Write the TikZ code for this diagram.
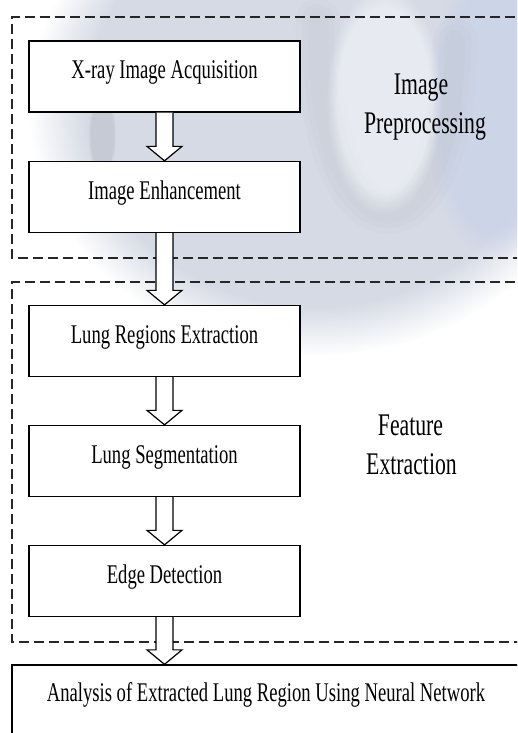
\documentclass[tikz,border=0pt]{standalone}
\usepackage{fontspec}
\setmainfont{Liberation Serif}[FakeStretch=0.69]
\usetikzlibrary{fadings,calc}

\definecolor{wmwash}{HTML}{D5DAE5}
\definecolor{wmblue}{HTML}{C9D2E8}
\definecolor{wmgrey}{HTML}{B4B8C2}
\definecolor{dashc}{HTML}{262626}

\tikzset{
  stagebox/.style={draw=black, line width=1.3pt, fill=white,
    minimum width=271pt, minimum height=71pt, inner sep=0pt},
  stagetext/.style={font=\fontsize{27}{32}\selectfont, inner sep=0pt},
  grouptext/.style={font=\fontsize{31.5}{38}\selectfont, anchor=base, inner sep=0pt},
  groupframe/.style={draw=dashc, line width=1.7pt, dash pattern=on 10pt off 5pt},
  blockarrow/.style={draw=black, line width=1.2pt, fill=white, line join=miter},
  softblob/.style={path fading=circle with fuzzy edge 20 percent},
}

% hollow block arrow from the bottom of one box to the top of the next
\newcommand\flowarrow[2]{%
  \path[blockarrow] let \p1=(#1.south), \p2=(#2.north) in
    (\x1-8.5pt,\y1) -- (\x1-8.5pt,\y2+14.5pt) -- (\x1-17.5pt,\y2+14.5pt)
    -- (\x1,\y2) -- (\x1+17.5pt,\y2+14.5pt) -- (\x1+8.5pt,\y2+14.5pt)
    -- (\x1+8.5pt,\y1);}

\begin{document}
\begin{tikzpicture}[x=1pt,y=-1pt]
\useasboundingbox (0,0) rectangle (517,733);
\clip (0,0) rectangle (517,733);
\fill[white] (0,0) rectangle (517,733);

% faint logo behind the upper stage
\fill[wmwash, softblob] (315,105) ellipse (285 and 250);
\fill[wmblue, opacity=.7, softblob] (495,110) ellipse (70 and 150);
\foreach \w in {44,32,20}
  \draw[wmgrey, opacity=.07, line width=\w pt, line cap=round]
    (318,20) .. controls (315,270) and (455,275) .. (455,40);
\fill[white, opacity=.45, softblob] (384,100) ellipse (58 and 115);
\fill[wmgrey, opacity=.45, softblob] (102,135) ellipse (14 and 45);

% stage frames
\draw[groupframe] (530,17) -- (12,17) -- (12,258) -- (530,258);
\draw[groupframe] (530,282) -- (12,282) -- (12,642) -- (530,642);

% process boxes
\node[stagebox, label={[stagetext,yshift=4pt]center:X-ray Image Acquisition}] (acq) at (164.5,76.5) {};
\node[stagebox, label={[stagetext,yshift=4pt]center:Image Enhancement}] (enh) at (164.5,197) {};
\node[stagebox, label={[stagetext,yshift=4pt]center:Lung Regions Extraction}] (reg) at (164.5,341) {};
\node[stagebox, label={[stagetext,yshift=4pt]center:Lung Segmentation}] (seg) at (164.5,461) {};
\node[stagebox, label={[stagetext,yshift=4pt]center:Edge Detection}] (edge) at (164.5,581) {};

% final analysis box, running off the page
\node[draw=black, line width=1.3pt, fill=white, minimum width=506.5pt,
  minimum height=100pt, inner sep=0pt] (ana) at (265.25,715) {};
\node[stagetext] (anatext) at (266,695) {Analysis of Extracted Lung Region Using Neural Network};

% stage labels
\node[grouptext] (preA) at (421,95) {Image};
\node[grouptext] (preB) at (425,133.5) {Preprocessing};
\node[grouptext] (featA) at (410.5,435) {Feature};
\node[grouptext] (featB) at (411.5,474) {Extraction};

% flow arrows
\flowarrow{acq}{enh}
\flowarrow{enh}{reg}
\flowarrow{reg}{seg}
\flowarrow{seg}{edge}
\flowarrow{edge}{ana}
\end{tikzpicture}
\end{document}
